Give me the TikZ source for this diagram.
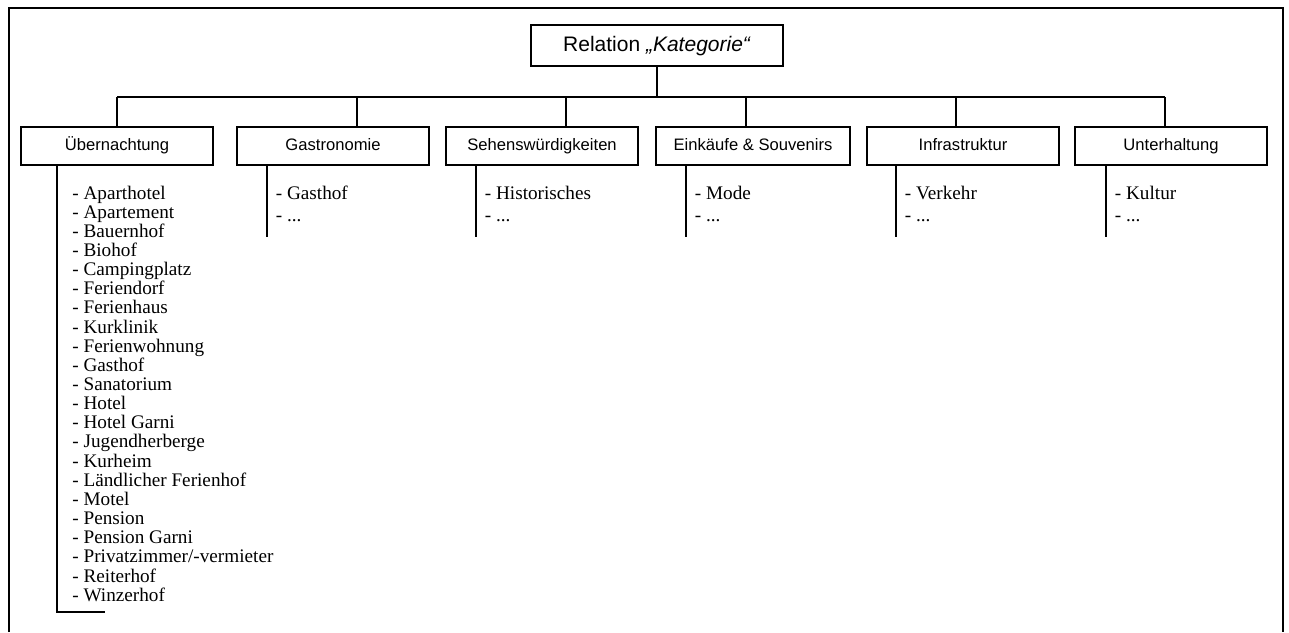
\documentclass[tikz,border=0pt]{standalone}
\usepackage{fontspec}
\setmainfont{Liberation Serif}
\setsansfont{Liberation Sans}
\usetikzlibrary{positioning}
\tikzset{
    catbox/.style={draw, line width=0.65pt, minimum width=96pt, minimum height=19pt, inner sep=0pt, text height=6.2pt, text depth=1.8pt, font=\sffamily\fontsize{8.3}{10}\selectfont}, % one box per category
    rootbox/.style={catbox, minimum width=126pt, minimum height=20.5pt, text height=7.8pt, text depth=2.2pt, font=\sffamily\fontsize{10.5}{12}\selectfont}, % the box on top
    entry/.style={anchor=base west, inner sep=0pt, font=\fontsize{9.6}{11}\selectfont}, % one line of a list
    link/.style={line width=0.65pt}, % the tree lines
}
\begin{document}
\begin{tikzpicture}[x=0.5pt, y=-0.5pt]
    \useasboundingbox (0,0) rectangle (1289,632);
    % frame, open at the bottom
    \draw[line width=1pt] (9,632) -- (9,8) -- (1283,8) -- (1283,632);

    \node[rootbox] (root) at (657,45.5) {Relation \textit{„Kategorie“}};
    \node[catbox] (c1) at (117,146) {Übernachtung};
    \node[catbox] (c2) at (333,146) {Gastronomie};
    \node[catbox] (c3) at (542,146) {Sehenswürdigkeiten};
    \node[catbox, minimum width=97pt] (c4) at (753,146) {Einkäufe \& Souvenirs};
    \node[catbox] (c5) at (963,146) {Infrastruktur};
    \node[catbox] (c6) at (1171,146) {Unterhaltung};

    % tree
    \coordinate (b1) at (117,97);
    \coordinate (b6) at (1165,97);
    \draw[link] (root) -- (root |- b1);
    \draw[link] (b1) -- (b6);
    \foreach \c/\x in {c1/117, c2/357, c3/566, c4/746, c5/956, c6/1165} {
        \coordinate (d\c) at (\x,97);
        \draw[link] (d\c) -- (d\c |- \c.north);
    }

    % long list
    \coordinate (u0) at (57,612);
    \coordinate (u0e) at (105,612);
    \draw[link] (u0 |- c1.south) -- (u0) -- (u0e);
    \foreach \what [count=\i] in {Aparthotel, Apartement, Bauernhof, Biohof, Campingplatz, Feriendorf, Ferienhaus, Kurklinik, Ferienwohnung, Gasthof, Sanatorium, Hotel, Hotel Garni, Jugendherberge, Kurheim, Ländlicher Ferienhof, Motel, Pension, Pension Garni, Privatzimmer/-vermieter, Reiterhof, Winzerhof}
        \node[entry] (u\i) at (72,{199+19.15*(\i-1)}) {- \what};

    % short lists
    \foreach \c/\n/\x/\first in {c2/2/267/Gasthof, c3/3/476/Historisches, c4/4/686/Mode, c5/5/896/Verkehr, c6/6/1106/Kultur} {
        \coordinate (l\n) at (\x,237);
        \draw[link] (l\n |- \c.south) -- (l\n);
        \node[entry] (first\n) at (\x+8.5,199) {- \first};
        \node[entry] (more\n) at (\x+8.5,221) {- ...};
    }
\end{tikzpicture}
\end{document}
